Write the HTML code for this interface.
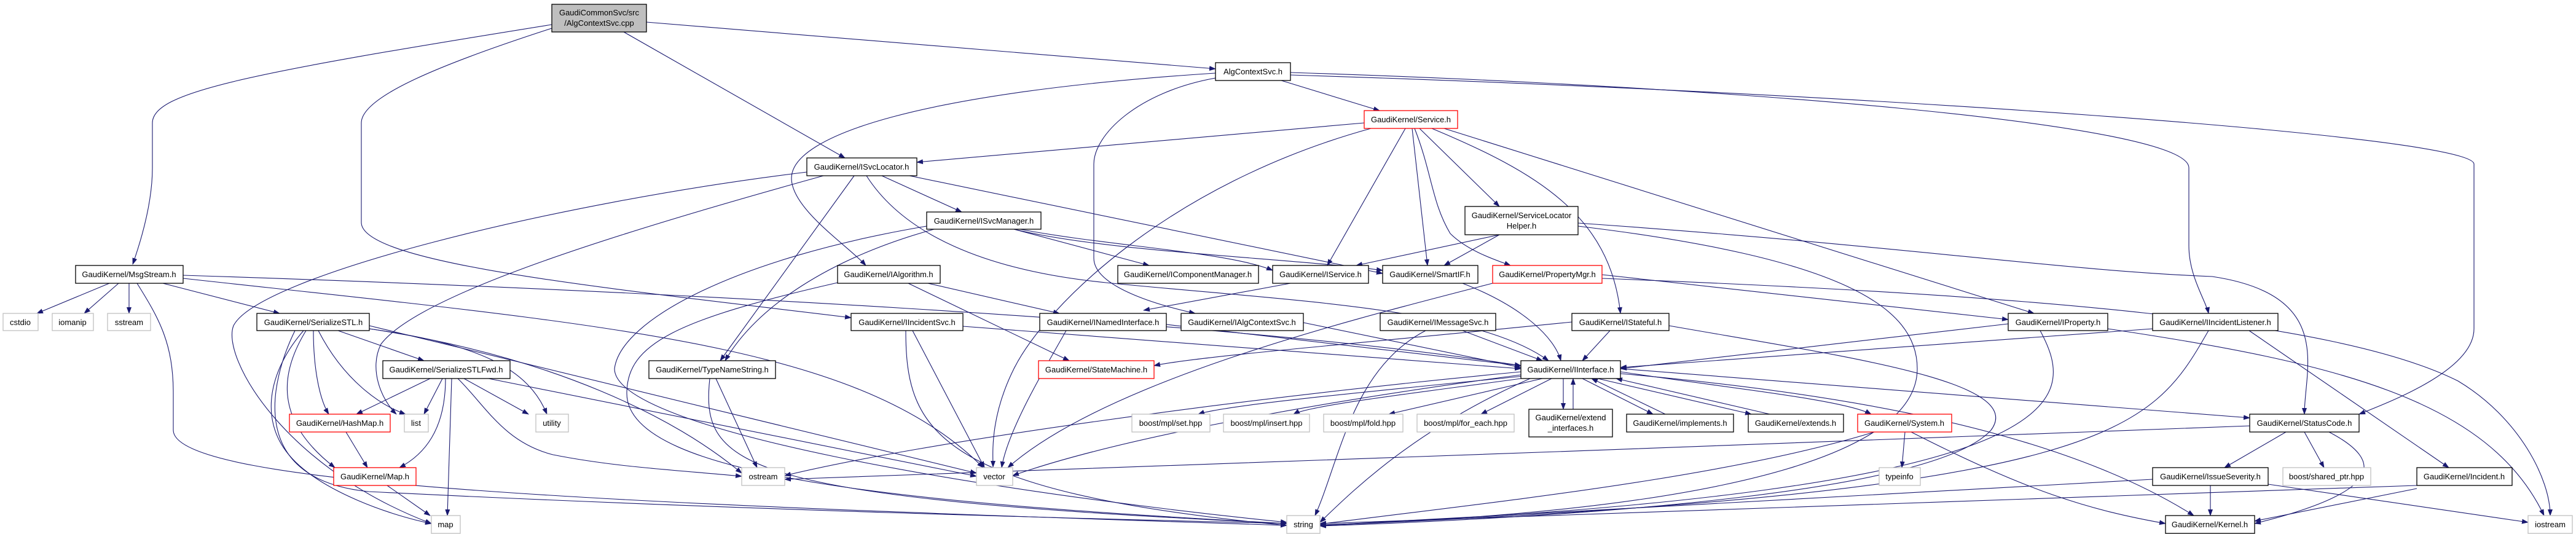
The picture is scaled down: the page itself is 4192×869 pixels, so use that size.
<!DOCTYPE html>
<html><head><meta charset="utf-8"><style>
html,body{margin:0;padding:0;background:#fff;}
svg{display:block;}
text{font-family:"Liberation Sans",sans-serif;font-size:13px;fill:#000;}
.e{fill:none;stroke:#191970;stroke-width:1.1;marker-end:url(#a);}
.n{fill:#fff;stroke:#000;stroke-width:1.3;}
.g{fill:#fff;stroke:#c0c0c0;stroke-width:1.3;}
.r{fill:#fff;stroke:#ff0000;stroke-width:1.3;}
</style></head><body>
<svg width="4192" height="869" viewBox="0 0 4192 869" xmlns="http://www.w3.org/2000/svg">
<defs><marker id="a" markerUnits="userSpaceOnUse" markerWidth="11" markerHeight="8" refX="10" refY="4" orient="auto"><path d="M0,0 L11,4 L0,8 z" fill="#191970"/></marker></defs>
<g>
<path class="e" d="M898,40 C400,120 248,150 248,200 L248,273 C248,330 230,390 216,430"/>
<path class="e" d="M898,46 C700,110 588,160 588,200 L588,362 C588,430 1000,470 1385,517"/>
<path class="e" d="M1015,52 L1375,257"/>
<path class="e" d="M1052,36 L1978,112"/>
<path class="e" d="M1978,119 C1500,150 1288,220 1288,290 C1288,340 1380,400 1409,432"/>
<path class="e" d="M1978,127 C1850,150 1780,220 1780,267 L1780,420 C1780,470 1900,500 1945,510"/>
<path class="e" d="M2085,131 L2245,180"/>
<path class="e" d="M2100,118 C2800,140 3562,200 3562,273 L3562,400 C3562,450 3590,490 3594,510"/>
<path class="e" d="M2100,122 C3000,150 4026,220 4026,267 L4026,535 C4026,600 3900,650 3839,674"/>
<path class="e" d="M2220,200 L1492,264"/>
<path class="e" d="M2231,209 C1900,300 1700,500 1650,600 C1610,680 1616,740 1616,760"/>
<path class="e" d="M2287,209 L2160,432"/>
<path class="e" d="M2298,209 L2323,432"/>
<path class="e" d="M2302,209 C2330,280 2330,330 2360,380 C2390,410 2440,425 2458,432"/>
<path class="e" d="M2310,209 L2440,336"/>
<path class="e" d="M2330,209 C2500,280 2620,350 2637,510"/>
<path class="e" d="M2350,209 L3310,510"/>
<path class="e" d="M1313,280 C900,330 420,450 380,530 C360,580 460,760 702,852"/>
<path class="e" d="M1340,286 C1000,380 680,480 620,560 C600,600 620,650 645,674"/>
<path class="e" d="M1390,286 L1172,587"/>
<path class="e" d="M1435,286 L1565,345"/>
<path class="e" d="M1410,286 C1470,380 1600,440 1800,460 C2100,490 2400,500 2520,587"/>
<path class="e" d="M1480,286 L2250,445"/>
<path class="e" d="M1508,368 C1200,420 1010,520 1000,600 C1000,700 1600,800 2094,850"/>
<path class="e" d="M1520,373 C1350,420 1230,500 1180,587"/>
<path class="e" d="M1650,373 L1870,432"/>
<path class="e" d="M1660,373 C1800,400 2000,410 2071,440"/>
<path class="e" d="M1650,373 C1800,410 2100,420 2250,440"/>
<path class="e" d="M1510,461 L1724,510"/>
<path class="e" d="M1478,461 L1740,587"/>
<path class="e" d="M1363,460 C1100,520 1020,560 1020,640 C1020,780 1500,820 2094,852"/>
<path class="e" d="M1485,538 L1602,761"/>
<path class="e" d="M1474,538 C1474,700 1520,800 2094,855"/>
<path class="e" d="M1567,531 L2475,600"/>
<path class="e" d="M1898,528 L2475,595"/>
<path class="e" d="M1735,538 C1700,600 1640,700 1630,761"/>
<path class="e" d="M2121,525 L2475,598"/>
<path class="e" d="M2380,538 L2510,587"/>
<path class="e" d="M2620,538 L2575,587"/>
<path class="e" d="M2558,524 C2200,560 1950,580 1878,595"/>
<path class="e" d="M2100,461 L1861,505"/>
<path class="e" d="M2380,461 C2480,500 2530,550 2540,587"/>
<path class="e" d="M2607,447 L3268,520"/>
<path class="e" d="M2607,453 C3300,480 3800,520 4000,620 C4100,680 4150,780 4150,839"/>
<path class="e" d="M2429,461 C2200,520 1800,620 1640,761"/>
<path class="e" d="M2440,382 L2207,432"/>
<path class="e" d="M2440,382 L2350,432"/>
<path class="e" d="M2568,363 C3100,400 3350,440 3600,450 C3800,480 3750,600 3750,674"/>
<path class="e" d="M178,461 L60,510"/>
<path class="e" d="M193,461 L137,510"/>
<path class="e" d="M210,461 L210,510"/>
<path class="e" d="M265,461 L455,510"/>
<path class="e" d="M223,461 C260,520 282,560 282,640 L282,700 C282,790 1000,820 2094,855"/>
<path class="e" d="M298,448 C1000,470 2000,520 2475,595"/>
<path class="e" d="M298,453 C1000,530 1400,560 1600,761"/>
<path class="e" d="M550,538 L690,587"/>
<path class="e" d="M510,538 C510,600 520,650 535,674"/>
<path class="e" d="M518,538 C560,620 620,660 660,674"/>
<path class="e" d="M498,538 C460,600 440,680 545,761"/>
<path class="e" d="M494,538 C440,600 420,680 470,740 C520,800 640,840 702,852"/>
<path class="e" d="M601,535 C780,560 860,600 890,674"/>
<path class="e" d="M601,535 C900,580 1100,680 1207,770"/>
<path class="e" d="M601,530 L1589,770"/>
<path class="e" d="M480,538 C440,620 400,780 600,800 C1200,830 1800,845 2094,852"/>
<path class="e" d="M700,616 L580,674"/>
<path class="e" d="M720,616 L690,674"/>
<path class="e" d="M725,616 C725,700 690,740 650,761"/>
<path class="e" d="M735,616 L728,839"/>
<path class="e" d="M755,616 L860,674"/>
<path class="e" d="M745,616 C790,660 820,720 900,740 C1000,760 1100,765 1207,775"/>
<path class="e" d="M795,616 L1589,775"/>
<path class="e" d="M563,703 L598,761"/>
<path class="e" d="M630,790 L700,839"/>
<path class="e" d="M1165,616 L1232,761"/>
<path class="e" d="M1155,616 C1140,760 1200,810 2094,852"/>
<path class="e" d="M2480,612 C2200,640 1990,660 1950,674"/>
<path class="e" d="M2490,614 C2300,640 2130,660 2105,674"/>
<path class="e" d="M2510,616 L2260,674"/>
<path class="e" d="M2525,616 L2410,674"/>
<path class="e" d="M2544,616 L2544,666"/>
<path class="e" d="M2560,666 L2560,616"/>
<path class="e" d="M2575,616 L2690,674"/>
<path class="e" d="M2710,674 L2590,616"/>
<path class="e" d="M2600,616 L2850,674"/>
<path class="e" d="M2880,674 L2630,616"/>
<path class="e" d="M2637,605 C2800,630 3000,650 3045,674"/>
<path class="e" d="M2637,600 L3661,680"/>
<path class="e" d="M2637,608 C3000,640 3350,700 3570,839"/>
<path class="e" d="M2475,605 C2000,650 1500,720 1277,774"/>
<path class="e" d="M2475,610 C2100,660 1800,720 1648,774"/>
<path class="e" d="M2490,616 C2300,700 2200,800 2148,850"/>
<path class="e" d="M3100,703 L3095,761"/>
<path class="e" d="M3110,703 C3300,800 3400,830 3524,852"/>
<path class="e" d="M3050,703 C2800,780 2400,820 2148,853"/>
<path class="e" d="M3720,703 L3620,761"/>
<path class="e" d="M3750,703 L3782,761"/>
<path class="e" d="M3790,703 C3880,750 3880,800 3669,852"/>
<path class="e" d="M3661,693 C3000,720 1800,760 1277,780"/>
<path class="e" d="M3597,790 L3597,839"/>
<path class="e" d="M3691,788 L4114,850"/>
<path class="e" d="M3503,780 L2148,855"/>
<path class="e" d="M3933,795 L3669,848"/>
<path class="e" d="M3933,790 L2148,852"/>
<path class="e" d="M3660,538 L3985,761"/>
<path class="e" d="M3503,535 L2637,598"/>
<path class="e" d="M3594,538 C3500,700 3450,800 2148,855"/>
<path class="e" d="M3268,527 L2637,600"/>
<path class="e" d="M3320,538 C3380,650 3400,800 2148,855"/>
<path class="e" d="M3430,535 C3800,590 4050,650 4140,839"/>
<path class="e" d="M2716,530 C3000,580 3300,620 3240,700 C3150,800 2600,840 2148,856"/>
<path class="e" d="M2320,538 C2200,600 2180,750 2140,839"/>
<path class="e" d="M2568,368 C3000,420 3120,500 3120,600 C3120,780 2600,840 2148,854"/>
</g>
<g>
<rect x="898" y="7" width="154" height="45" fill="#bfbfbf" stroke="#000" stroke-width="1.3"/>
<text x="975" y="25" text-anchor="middle">GaudiCommonSvc/src</text>
<text x="975" y="42" text-anchor="middle">/AlgContextSvc.cpp</text>

<rect class="n" x="1978" y="102" width="122" height="29"/><text x="2039" y="121" text-anchor="middle">AlgContextSvc.h</text>
<rect class="r" x="2220" y="180" width="152" height="29"/><text x="2296" y="199" text-anchor="middle">GaudiKernel/Service.h</text>
<rect class="n" x="1313" y="257" width="179" height="29"/><text x="1402" y="276" text-anchor="middle">GaudiKernel/ISvcLocator.h</text>
<rect class="n" x="1508" y="345" width="186" height="28"/><text x="1601" y="364" text-anchor="middle">GaudiKernel/ISvcManager.h</text>
<rect class="n" x="2384" y="336" width="184" height="46"/><text x="2476" y="355" text-anchor="middle">GaudiKernel/ServiceLocator</text><text x="2476" y="372" text-anchor="middle">Helper.h</text>

<rect class="n" x="123" y="432" width="175" height="29"/><text x="210" y="451" text-anchor="middle">GaudiKernel/MsgStream.h</text>
<rect class="n" x="1363" y="432" width="167" height="29"/><text x="1446" y="451" text-anchor="middle">GaudiKernel/IAlgorithm.h</text>
<rect class="n" x="1819" y="432" width="229" height="29"/><text x="1933" y="451" text-anchor="middle">GaudiKernel/IComponentManager.h</text>
<rect class="n" x="2071" y="432" width="156" height="29"/><text x="2149" y="451" text-anchor="middle">GaudiKernel/IService.h</text>
<rect class="n" x="2250" y="432" width="155" height="29"/><text x="2327" y="451" text-anchor="middle">GaudiKernel/SmartIF.h</text>
<rect class="r" x="2429" y="432" width="178" height="29"/><text x="2518" y="451" text-anchor="middle">GaudiKernel/PropertyMgr.h</text>

<rect class="g" x="5" y="510" width="57" height="28"/><text x="33" y="529" text-anchor="middle">cstdio</text>
<rect class="g" x="85" y="510" width="67" height="28"/><text x="118" y="529" text-anchor="middle">iomanip</text>
<rect class="g" x="175" y="510" width="70" height="28"/><text x="210" y="529" text-anchor="middle">sstream</text>
<rect class="n" x="418" y="510" width="183" height="28"/><text x="510" y="529" text-anchor="middle">GaudiKernel/SerializeSTL.h</text>
<rect class="n" x="1385" y="510" width="182" height="28"/><text x="1476" y="529" text-anchor="middle">GaudiKernel/IIncidentSvc.h</text>
<rect class="n" x="1692" y="510" width="206" height="28"/><text x="1795" y="529" text-anchor="middle">GaudiKernel/INamedInterface.h</text>
<rect class="n" x="1922" y="510" width="199" height="28"/><text x="2021" y="529" text-anchor="middle">GaudiKernel/IAlgContextSvc.h</text>
<rect class="n" x="2246" y="510" width="188" height="28"/><text x="2340" y="529" text-anchor="middle">GaudiKernel/IMessageSvc.h</text>
<rect class="n" x="2558" y="510" width="158" height="28"/><text x="2637" y="529" text-anchor="middle">GaudiKernel/IStateful.h</text>
<rect class="n" x="3268" y="510" width="162" height="28"/><text x="3349" y="529" text-anchor="middle">GaudiKernel/IProperty.h</text>
<rect class="n" x="3503" y="510" width="204" height="28"/><text x="3605" y="529" text-anchor="middle">GaudiKernel/IIncidentListener.h</text>

<rect class="n" x="623" y="587" width="207" height="29"/><text x="726" y="606" text-anchor="middle">GaudiKernel/SerializeSTLFwd.h</text>
<rect class="n" x="1056" y="587" width="206" height="29"/><text x="1159" y="606" text-anchor="middle">GaudiKernel/TypeNameString.h</text>
<rect class="r" x="1690" y="587" width="188" height="29"/><text x="1784" y="606" text-anchor="middle">GaudiKernel/StateMachine.h</text>
<rect class="n" x="2475" y="587" width="162" height="29"/><text x="2556" y="606" text-anchor="middle">GaudiKernel/IInterface.h</text>

<rect class="r" x="471" y="674" width="164" height="29"/><text x="553" y="693" text-anchor="middle">GaudiKernel/HashMap.h</text>
<rect class="g" x="658" y="674" width="39" height="29"/><text x="677" y="693" text-anchor="middle">list</text>
<rect class="g" x="872" y="674" width="53" height="29"/><text x="898" y="693" text-anchor="middle">utility</text>
<rect class="g" x="1842" y="674" width="127" height="29"/><text x="1905" y="693" text-anchor="middle">boost/mpl/set.hpp</text>
<rect class="g" x="1991" y="674" width="140" height="29"/><text x="2061" y="693" text-anchor="middle">boost/mpl/insert.hpp</text>
<rect class="g" x="2154" y="674" width="129" height="29"/><text x="2218" y="693" text-anchor="middle">boost/mpl/fold.hpp</text>
<rect class="g" x="2306" y="674" width="158" height="29"/><text x="2385" y="693" text-anchor="middle">boost/mpl/for_each.hpp</text>
<rect class="n" x="2488" y="666" width="136" height="45"/><text x="2556" y="684" text-anchor="middle">GaudiKernel/extend</text><text x="2556" y="701" text-anchor="middle">_interfaces.h</text>
<rect class="n" x="2647" y="674" width="174" height="29"/><text x="2734" y="693" text-anchor="middle">GaudiKernel/implements.h</text>
<rect class="n" x="2845" y="674" width="155" height="29"/><text x="2922" y="693" text-anchor="middle">GaudiKernel/extends.h</text>
<rect class="r" x="3023" y="674" width="153" height="29"/><text x="3099" y="693" text-anchor="middle">GaudiKernel/System.h</text>
<rect class="n" x="3661" y="674" width="178" height="29"/><text x="3750" y="693" text-anchor="middle">GaudiKernel/StatusCode.h</text>

<rect class="r" x="543" y="761" width="134" height="29"/><text x="610" y="780" text-anchor="middle">GaudiKernel/Map.h</text>
<rect class="g" x="1207" y="761" width="70" height="29"/><text x="1242" y="780" text-anchor="middle">ostream</text>
<rect class="g" x="1589" y="761" width="59" height="29"/><text x="1618" y="780" text-anchor="middle">vector</text>
<rect class="g" x="3058" y="761" width="67" height="29"/><text x="3091" y="780" text-anchor="middle">typeinfo</text>
<rect class="n" x="3503" y="761" width="188" height="29"/><text x="3597" y="780" text-anchor="middle">GaudiKernel/IssueSeverity.h</text>
<rect class="g" x="3715" y="761" width="143" height="29"/><text x="3786" y="780" text-anchor="middle">boost/shared_ptr.hpp</text>
<rect class="n" x="3933" y="761" width="155" height="29"/><text x="4010" y="780" text-anchor="middle">GaudiKernel/Incident.h</text>

<rect class="g" x="702" y="839" width="47" height="29"/><text x="725" y="858" text-anchor="middle">map</text>
<rect class="g" x="2094" y="839" width="54" height="29"/><text x="2121" y="858" text-anchor="middle">string</text>
<rect class="n" x="3524" y="839" width="145" height="29"/><text x="3596" y="858" text-anchor="middle">GaudiKernel/Kernel.h</text>
<rect class="g" x="4114" y="839" width="72" height="29"/><text x="4150" y="858" text-anchor="middle">iostream</text>
</g>
</svg>
</body></html>
